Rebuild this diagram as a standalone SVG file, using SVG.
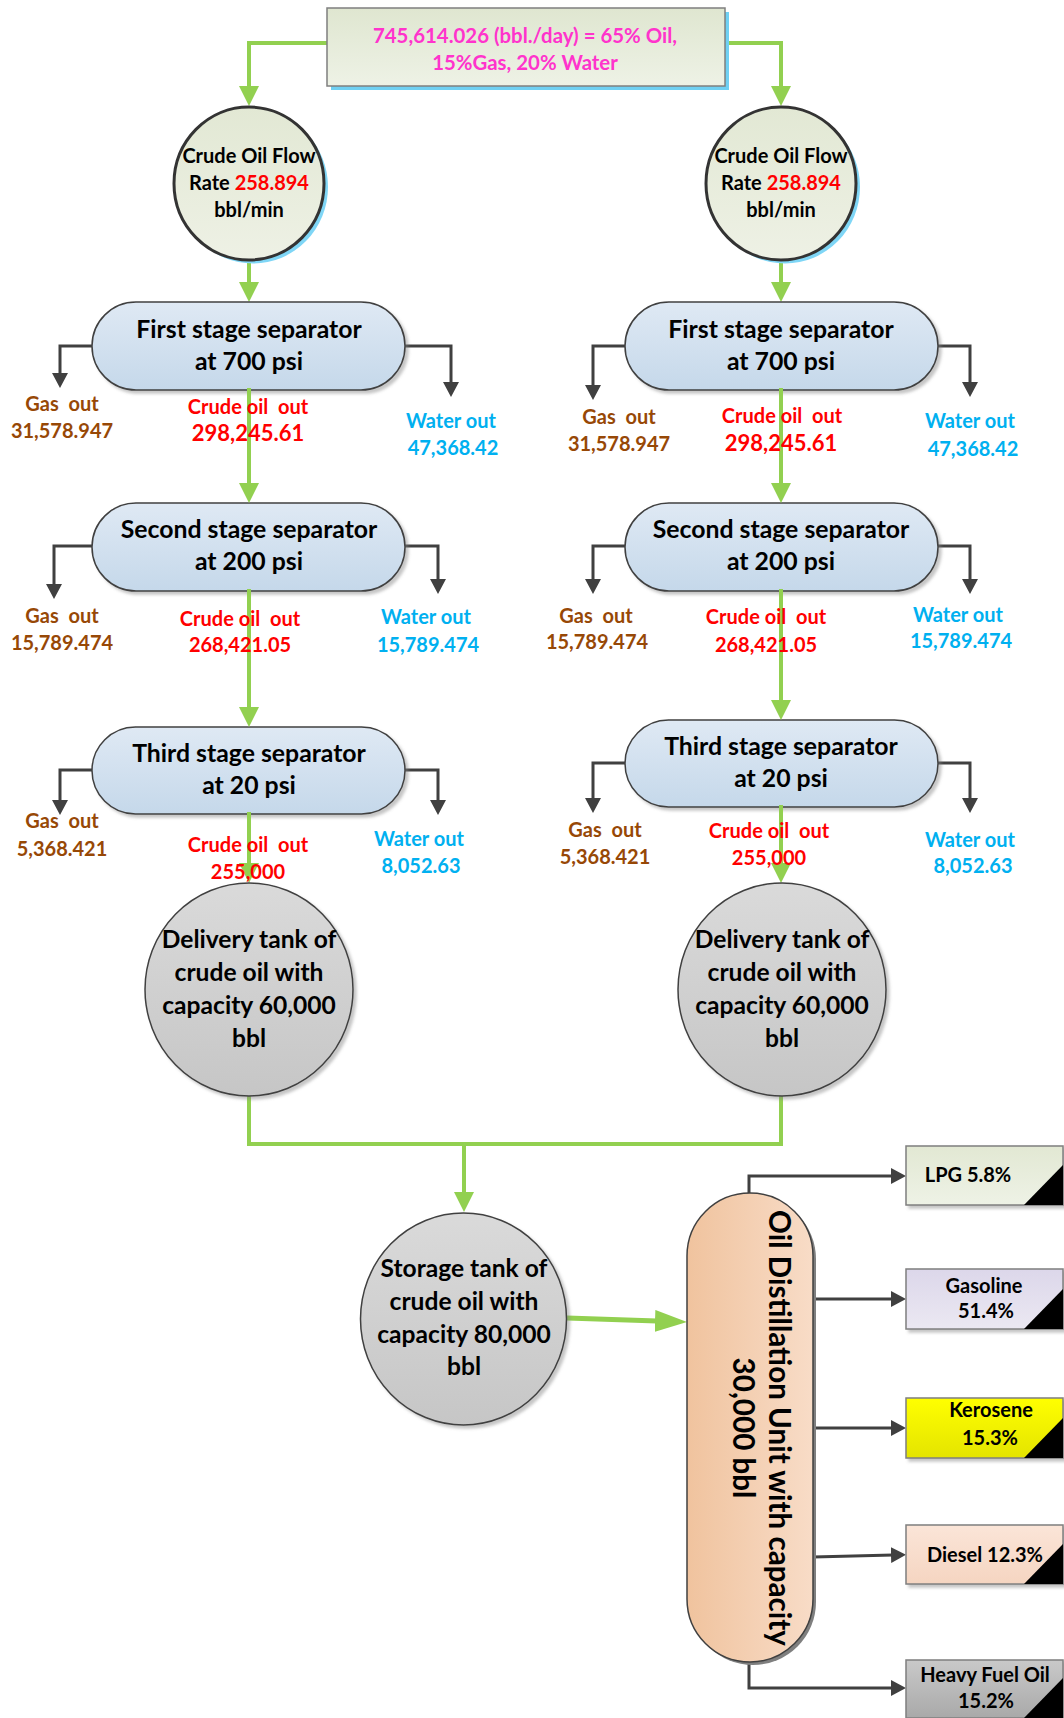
<svg xmlns="http://www.w3.org/2000/svg" width="1064" height="1718" viewBox="0 0 1064 1718">
  <style>
    text { font-family: Lato, "Liberation Sans", sans-serif; font-weight: 700; text-anchor: middle; }
    .t20 { font-size: 20px; }
    .t22 { font-size: 22px; }
    .feed-t { font-size: 20.4px; }
    .sep-t { font-size: 24.8px; fill: #000; }
    .tank-t { font-size: 24.6px; fill: #000; }
    .flow-t { font-size: 20px; fill: #000; }
    .prod-t { font-size: 20px; fill: #000; }
    .col-t { font-size: 29.6px; fill: #000; }
    .gas { fill: #974806; }
    .oil { fill: #ff0000; }
    .wat { fill: #00b0f0; }
    .pink { fill: #ff33cc; }
    .green { stroke: #92d050; stroke-width: 4; fill: none; }
    .green-lg { stroke: #92d050; stroke-width: 5; fill: none; }
    .gray { stroke: #404040; stroke-width: 3; fill: none; }
    .sep { fill: url(#gSep); stroke: #404040; stroke-width: 1.5; filter: url(#soft); }
    .tank { fill: url(#gTank); stroke: #404040; stroke-width: 1.5; filter: url(#soft); }
    .prod { stroke: #7f7f7f; stroke-width: 1.5; filter: url(#soft); }
  </style>
  <defs>
    <linearGradient id="gTop" x1="0" y1="0" x2="0" y2="1">
      <stop offset="0" stop-color="#dfe6d0"/>
      <stop offset="1" stop-color="#eef2e6"/>
    </linearGradient>
    <linearGradient id="gFlow" x1="0" y1="0" x2="0" y2="1">
      <stop offset="0" stop-color="#e2e8d4"/>
      <stop offset="1" stop-color="#eef1e5"/>
    </linearGradient>
    <linearGradient id="gSep" x1="0" y1="0" x2="0" y2="1">
      <stop offset="0" stop-color="#dfe9f4"/>
      <stop offset="1" stop-color="#c5d8ea"/>
    </linearGradient>
    <linearGradient id="gTank" x1="0" y1="0" x2="0" y2="1">
      <stop offset="0" stop-color="#dadada"/>
      <stop offset="1" stop-color="#c6c6c6"/>
    </linearGradient>
    <linearGradient id="gCol" x1="0" y1="0" x2="1" y2="0">
      <stop offset="0" stop-color="#f0c39e"/>
      <stop offset="1" stop-color="#f8dcc7"/>
    </linearGradient>
    <linearGradient id="gLpg" x1="0" y1="0" x2="0" y2="1">
      <stop offset="0" stop-color="#e2e8d3"/>
      <stop offset="1" stop-color="#eef2e6"/>
    </linearGradient>
    <linearGradient id="gGas" x1="0" y1="0" x2="0" y2="1">
      <stop offset="0" stop-color="#dcd7ea"/>
      <stop offset="1" stop-color="#ebe8f2"/>
    </linearGradient>
    <linearGradient id="gKer" x1="0" y1="0" x2="0" y2="1">
      <stop offset="0" stop-color="#ffff00"/>
      <stop offset="1" stop-color="#e4e400"/>
    </linearGradient>
    <linearGradient id="gDie" x1="0" y1="0" x2="0" y2="1">
      <stop offset="0" stop-color="#fbe5d8"/>
      <stop offset="1" stop-color="#f5d5c1"/>
    </linearGradient>
    <linearGradient id="gHfo" x1="0" y1="0" x2="0" y2="1">
      <stop offset="0" stop-color="#c9c9c9"/>
      <stop offset="1" stop-color="#a9a9a9"/>
    </linearGradient>
    <filter id="soft" x="-10%" y="-10%" width="125%" height="130%">
      <feDropShadow dx="3" dy="3" stdDeviation="1.5" flood-color="#808080" flood-opacity="0.45"/>
    </filter>
    <marker id="arrG" markerUnits="userSpaceOnUse" markerWidth="20" markerHeight="20" refX="2" refY="10" orient="auto">
      <path d="M0,0 L20,10 L0,20 z" fill="#92d050"/>
    </marker>
    <marker id="arrGL" markerUnits="userSpaceOnUse" markerWidth="32" markerHeight="22" refX="2" refY="11" orient="auto">
      <path d="M0,0 L32,11 L0,22 z" fill="#92d050"/>
    </marker>
    <marker id="arrK" markerUnits="userSpaceOnUse" markerWidth="15" markerHeight="16" refX="2" refY="8" orient="auto">
      <path d="M0,0 L15,8 L0,16 z" fill="#404040"/>
    </marker>
  </defs>

  <rect width="1064" height="1718" fill="#ffffff"/>

  <!-- green flow lines -->
  <g id="connectors-flow">
    <path class="green" d="M327,43 H249 V88" marker-end="url(#arrG)"/>
    <path class="green" d="M725,43 H781 V88" marker-end="url(#arrG)"/>
    <path class="green" d="M249,261 V284" marker-end="url(#arrG)"/>
    <path class="green" d="M781,261 V284" marker-end="url(#arrG)"/>
    <path class="green" d="M249,1096 V1144 H781 V1096"/>
    <path class="green" d="M464,1144 V1194" marker-end="url(#arrG)"/>
    <path class="green-lg" d="M567,1318 L657,1321" marker-end="url(#arrGL)"/>
  </g>

  <!-- gas / water outlets and product draw-offs -->
  <g id="connectors-outlets">
    <path class="gray" d="M92,346 H60 V375" marker-end="url(#arrK)"/>
    <path class="gray" d="M405,346 H451 V384" marker-end="url(#arrK)"/>
    <path class="gray" d="M92,546 H54 V586" marker-end="url(#arrK)"/>
    <path class="gray" d="M405,546 H438 V581" marker-end="url(#arrK)"/>
    <path class="gray" d="M92,770 H60 V802" marker-end="url(#arrK)"/>
    <path class="gray" d="M405,770 H438 V802" marker-end="url(#arrK)"/>
    <path class="gray" d="M625,346 H593 V387" marker-end="url(#arrK)"/>
    <path class="gray" d="M938,346 H970 V384" marker-end="url(#arrK)"/>
    <path class="gray" d="M625,546 H593 V581" marker-end="url(#arrK)"/>
    <path class="gray" d="M938,546 H970 V581" marker-end="url(#arrK)"/>
    <path class="gray" d="M625,763 H593 V800" marker-end="url(#arrK)"/>
    <path class="gray" d="M938,763 H970 V800" marker-end="url(#arrK)"/>
    <path class="gray" d="M749,1194 V1176 H893" marker-end="url(#arrK)"/>
    <path class="gray" d="M813,1299 H893" marker-end="url(#arrK)"/>
    <path class="gray" d="M813,1428 H893" marker-end="url(#arrK)"/>
    <path class="gray" d="M813,1557 L893,1555" marker-end="url(#arrK)"/>
    <path class="gray" d="M749,1662 V1688 H893" marker-end="url(#arrK)"/>
  </g>

  <!-- feed -->
  <g id="feed">
    <rect x="331" y="12" width="398" height="78" fill="#6fd0f3"/>
    <rect x="327" y="8" width="398" height="78" fill="url(#gTop)" stroke="#7f7f7f" stroke-width="1.5"/>
    <text class="feed-t pink" x="525" y="43">745,614.026 (bbl./day) = 65% Oil,</text>
    <text class="feed-t pink" x="525" y="70">15%Gas, 20% Water</text>
  </g>

  <!-- flow rate, train A -->
  <g id="flow-a">
    <ellipse cx="253" cy="187" rx="75" ry="76.5" fill="#7fd6f6"/>
    <ellipse cx="249" cy="183.5" rx="75" ry="76.5" fill="url(#gFlow)" stroke="#333333" stroke-width="3"/>
    <text class="flow-t" x="249" y="163">Crude Oil Flow</text>
    <text class="flow-t" x="249" y="190">Rate <tspan fill="#ff0000">258.894</tspan></text>
    <text class="flow-t" x="249" y="217">bbl/min</text>
  </g>

  <!-- flow rate, train B -->
  <g id="flow-b">
    <ellipse cx="785" cy="187" rx="75" ry="76.5" fill="#7fd6f6"/>
    <ellipse cx="781" cy="183.5" rx="75" ry="76.5" fill="url(#gFlow)" stroke="#333333" stroke-width="3"/>
    <text class="flow-t" x="781" y="163">Crude Oil Flow</text>
    <text class="flow-t" x="781" y="190">Rate <tspan fill="#ff0000">258.894</tspan></text>
    <text class="flow-t" x="781" y="217">bbl/min</text>
  </g>

  <!-- separators, train A -->
  <g id="sep1-a">
    <rect class="sep" x="92" y="302" width="313" height="88" rx="44"/>
    <text class="sep-t" x="249" y="338">First stage separator</text>
    <text class="sep-t" x="249" y="370">at 700 psi</text>
  </g>
  <g id="sep2-a">
    <rect class="sep" x="92" y="503" width="313" height="88" rx="44"/>
    <text class="sep-t" x="249" y="538">Second stage separator</text>
    <text class="sep-t" x="249" y="570">at 200 psi</text>
  </g>
  <g id="sep3-a">
    <rect class="sep" x="92" y="727" width="313" height="87" rx="43.5"/>
    <text class="sep-t" x="249" y="762">Third stage separator</text>
    <text class="sep-t" x="249" y="794">at 20 psi</text>
  </g>

  <!-- separators, train B -->
  <g id="sep1-b">
    <rect class="sep" x="625" y="302" width="313" height="88" rx="44"/>
    <text class="sep-t" x="781" y="338">First stage separator</text>
    <text class="sep-t" x="781" y="370">at 700 psi</text>
  </g>
  <g id="sep2-b">
    <rect class="sep" x="625" y="503" width="313" height="88" rx="44"/>
    <text class="sep-t" x="781" y="538">Second stage separator</text>
    <text class="sep-t" x="781" y="570">at 200 psi</text>
  </g>
  <g id="sep3-b">
    <rect class="sep" x="625" y="720" width="313" height="87" rx="43.5"/>
    <text class="sep-t" x="781" y="755">Third stage separator</text>
    <text class="sep-t" x="781" y="787">at 20 psi</text>
  </g>

  <!-- crude oil lines drawn over the separators and their labels -->
  <g id="connectors-crude">
    <path class="green" d="M249,388 V485" marker-end="url(#arrG)"/>
    <path class="green" d="M781,388 V485" marker-end="url(#arrG)"/>
    <path class="green" d="M249,589 V709" marker-end="url(#arrG)"/>
    <path class="green" d="M781,589 V702" marker-end="url(#arrG)"/>
    <path class="green" d="M249,812 V865" marker-end="url(#arrG)"/>
    <path class="green" d="M781,805 V865" marker-end="url(#arrG)"/>
  </g>

  <!-- stream labels, train A -->
  <g id="labels-a">
    <text class="t20 gas" x="62" y="411">Gas&#160; out</text>
    <text class="t20 gas" x="62" y="438">31,578.947</text>
    <text class="t20 oil" x="248" y="414">Crude oil&#160; out</text>
    <text class="t22 oil" x="248" y="441">298,245.61</text>
    <text class="t20 wat" x="451" y="428">Water out</text>
    <text class="t20 wat" x="453" y="455">47,368.42</text>

    <text class="t20 gas" x="62" y="623">Gas&#160; out</text>
    <text class="t20 gas" x="62" y="650">15,789.474</text>
    <text class="t20 oil" x="240" y="626">Crude oil&#160; out</text>
    <text class="t20 oil" x="240" y="652">268,421.05</text>
    <text class="t20 wat" x="426" y="624">Water out</text>
    <text class="t20 wat" x="428" y="652">15,789.474</text>

    <text class="t20 gas" x="62" y="828">Gas&#160; out</text>
    <text class="t20 gas" x="62" y="856">5,368.421</text>
    <text class="t20 oil" x="248" y="852">Crude oil&#160; out</text>
    <text class="t20 oil" x="248" y="879">255,000</text>
    <text class="t20 wat" x="419" y="846">Water out</text>
    <text class="t20 wat" x="421" y="873">8,052.63</text>
  </g>

  <!-- stream labels, train B -->
  <g id="labels-b">
    <text class="t20 gas" x="619" y="424">Gas&#160; out</text>
    <text class="t20 gas" x="619" y="451">31,578.947</text>
    <text class="t20 oil" x="782" y="423">Crude oil&#160; out</text>
    <text class="t22 oil" x="781" y="451">298,245.61</text>
    <text class="t20 wat" x="970" y="428">Water out</text>
    <text class="t20 wat" x="973" y="456">47,368.42</text>

    <text class="t20 gas" x="596" y="623">Gas&#160; out</text>
    <text class="t20 gas" x="597" y="649">15,789.474</text>
    <text class="t20 oil" x="766" y="624">Crude oil&#160; out</text>
    <text class="t20 oil" x="766" y="652">268,421.05</text>
    <text class="t20 wat" x="958" y="622">Water out</text>
    <text class="t20 wat" x="961" y="648">15,789.474</text>

    <text class="t20 gas" x="605" y="837">Gas&#160; out</text>
    <text class="t20 gas" x="605" y="864">5,368.421</text>
    <text class="t20 oil" x="769" y="838">Crude oil&#160; out</text>
    <text class="t20 oil" x="769" y="865">255,000</text>
    <text class="t20 wat" x="970" y="847">Water out</text>
    <text class="t20 wat" x="973" y="873">8,052.63</text>
  </g>

  <!-- delivery tanks -->
  <g id="delivery-a">
    <ellipse class="tank" cx="249" cy="989.5" rx="104" ry="106.5"/>
    <text class="tank-t" x="249" y="948">Delivery tank of</text>
    <text class="tank-t" x="249" y="981">crude oil with</text>
    <text class="tank-t" x="249" y="1014">capacity 60,000</text>
    <text class="tank-t" x="249" y="1047">bbl</text>
  </g>
  <g id="delivery-b">
    <ellipse class="tank" cx="782" cy="989.5" rx="104" ry="106.5"/>
    <text class="tank-t" x="782" y="948">Delivery tank of</text>
    <text class="tank-t" x="782" y="981">crude oil with</text>
    <text class="tank-t" x="782" y="1014">capacity 60,000</text>
    <text class="tank-t" x="782" y="1047">bbl</text>
  </g>

  <!-- storage tank -->
  <g id="storage">
    <ellipse class="tank" cx="463.5" cy="1319" rx="103" ry="106"/>
    <text class="tank-t" x="464" y="1277">Storage tank of</text>
    <text class="tank-t" x="464" y="1310">crude oil with</text>
    <text class="tank-t" x="464" y="1343">capacity 80,000</text>
    <text class="tank-t" x="464" y="1375">bbl</text>
  </g>

  <!-- distillation column -->
  <g id="distillation">
    <rect x="690" y="1196" width="126" height="469" rx="63" fill="#7f7f7f"/>
    <rect x="687" y="1193" width="126" height="469" rx="63" fill="url(#gCol)" stroke="#404040" stroke-width="1.5"/>
    <text class="col-t" transform="translate(769,1428) rotate(90)">Oil Distillation Unit with capacity</text>
    <text class="col-t" transform="translate(733,1428) rotate(90)">30,000 bbl</text>
  </g>

  <!-- products -->
  <g id="lpg">
    <rect class="prod" x="906" y="1146" width="157" height="59" fill="url(#gLpg)"/>
    <polygon points="1024,1205 1063,1205 1063,1165" fill="#000"/>
    <text class="prod-t" x="968" y="1182">LPG 5.8%</text>
  </g>
  <g id="gasoline">
    <rect class="prod" x="906" y="1269" width="157" height="60" fill="url(#gGas)"/>
    <polygon points="1024,1329 1063,1329 1063,1289" fill="#000"/>
    <text class="prod-t" x="984" y="1293">Gasoline</text>
    <text class="prod-t" x="986" y="1318">51.4%</text>
  </g>
  <g id="kerosene">
    <rect class="prod" x="906" y="1398" width="157" height="60" fill="url(#gKer)"/>
    <polygon points="1024,1458 1063,1458 1063,1418" fill="#000"/>
    <text class="prod-t" x="991" y="1417">Kerosene</text>
    <text class="prod-t" x="990" y="1445">15.3%</text>
  </g>
  <g id="diesel">
    <rect class="prod" x="906" y="1525" width="157" height="59" fill="url(#gDie)"/>
    <polygon points="1024,1584 1063,1584 1063,1544" fill="#000"/>
    <text class="prod-t" x="985" y="1562">Diesel 12.3%</text>
  </g>
  <g id="heavy-fuel-oil">
    <rect class="prod" x="906" y="1660" width="157" height="58" fill="url(#gHfo)"/>
    <polygon points="1024,1718 1063,1718 1063,1678" fill="#000"/>
    <text class="prod-t" x="985" y="1682">Heavy Fuel Oil</text>
    <text class="prod-t" x="986" y="1708">15.2%</text>
  </g>
</svg>
